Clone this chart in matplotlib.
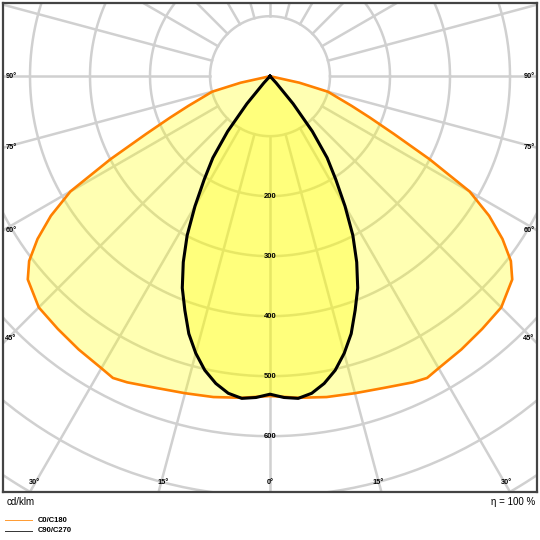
import numpy as np
import matplotlib
matplotlib.use('Agg')
import matplotlib.pyplot as plt

plt.rcParams['font.family'] = ['Liberation Sans', 'DejaVu Sans']

# Luminous intensity (cd/klm) against gamma angle (deg)
gamma_c0 = [0, 5, 10, 15, 20, 25, 27.5, 30, 35, 40, 45, 50, 52.5, 55, 57.5,
            60, 62.5, 65, 67.5, 70, 72.5, 75, 77.5, 80]
i_c0 = [533, 538, 543, 547, 553, 563, 567, 562, 556, 550, 545, 527, 506, 473, 433,
        384, 300, 228, 180, 145, 118, 100, 50, 0]

gamma_c90 = [0, 2.5, 5, 7.5, 10, 12.5, 15, 17.5, 20, 22.5, 25, 27.5, 30,
             32.5, 35, 37.5, 40, 42.5, 45]
i_c90 = [530, 536, 539, 533, 520, 502, 478, 450, 415, 382, 342, 299, 250,
         204, 166, 116, 60, 15, 0]

ring_values = [100, 200, 300, 400, 500, 600, 700, 800]
ring_labels = [200, 300, 400, 500, 600]
side_angles = [90, 75, 60, 45]
bottom_angles = [0, 15, 30]

XMAX = 445
YMIN, YMAX = -693, 122


def curve_xy(gammas, values):
    g = np.radians(np.array(gammas, dtype=float))
    r = np.array(values, dtype=float)
    # left half (C180 / C270) then right half (C0 / C90)
    xl = -r[::-1] * np.sin(g[::-1])
    yl = -r[::-1] * np.cos(g[::-1])
    xr = r * np.sin(g)
    yr = -r * np.cos(g)
    return np.concatenate([xl, xr[1:]]), np.concatenate([yl, yr[1:]])


fig = plt.figure(figsize=(5.4, 5.4), dpi=100)
ax = fig.add_axes([3 / 540, 48 / 540, 534 / 540, 489 / 540])
ax.set_xlim(-XMAX, XMAX)
ax.set_ylim(YMIN, YMAX)
ax.set_xticks([])
ax.set_yticks([])
for s in ax.spines.values():
    s.set_linewidth(1.6)
    s.set_color('#444444')

# polar grid
grid_color = '#d0d0d0'
t = np.linspace(0, 2 * np.pi, 400)
for rv in ring_values:
    ax.plot(rv * np.cos(t), rv * np.sin(t), color=grid_color, lw=1.8, zorder=1)
for a in range(0, 360, 15):
    ar = np.radians(a)
    ax.plot([100 * np.sin(ar), 1000 * np.sin(ar)],
            [-100 * np.cos(ar), -1000 * np.cos(ar)],
            color=grid_color, lw=1.8, zorder=1)

# curves
x0, y0 = curve_xy(gamma_c0, i_c0)
x90, y90 = curve_xy(gamma_c90, i_c90)
ax.fill(x0, y0, color='#ffff00', alpha=0.3, lw=0, zorder=2)
ax.fill(x90, y90, color='#ffff00', alpha=0.3, lw=0, zorder=2)
ax.plot(x0, y0, color='#ff8000', lw=1.9, zorder=3, solid_joinstyle='round')
ax.plot(x90, y90, color='black', lw=2.2, zorder=4, solid_joinstyle='round')

# intensity labels
for v in ring_labels:
    ax.text(0, -v, str(v), fontsize=5.5, fontweight='bold', ha='center', va='center', zorder=5)

# angle labels on the frame
for a in side_angles:
    y = -XMAX / np.tan(np.radians(a)) if a != 90 else 0
    if a == 45:
        y += 8
    ax.text(-XMAX + 4, y, f'{a}°', fontsize=5.3, fontweight='bold', ha='left', va='center')
    ax.text(XMAX - 4, y, f'{a}°', fontsize=5.3, fontweight='bold', ha='right', va='center')
for a in bottom_angles:
    x = -YMIN * np.tan(np.radians(a))
    ax.text(-x + 8 if a else 0, -678, f'{a}°', fontsize=5.3, fontweight='bold',
            ha='center', va='center')
    if a:
        ax.text(x - 6, -678, f'{a}°', fontsize=5.3, fontweight='bold', ha='center', va='center')

# footer
fig.text(7 / 540, 1 - 502 / 540, 'cd/klm', fontsize=7, ha='left', va='center')
fig.text(535 / 540, 1 - 502 / 540, 'η = 100 %', fontsize=7, ha='right', va='center')
fig.add_artist(plt.Line2D([5 / 540, 32 / 540], [1 - 520 / 540] * 2, color='#ff9a30', lw=0.7))
fig.add_artist(plt.Line2D([5 / 540, 32 / 540], [1 - 531 / 540] * 2, color='#333333', lw=0.7))
fig.text(38 / 540, 1 - 520 / 540, 'C0/C180', fontsize=5.5, fontweight='bold', ha='left', va='center')
fig.text(38 / 540, 1 - 531 / 540, 'C90/C270', fontsize=5.5, fontweight='bold', ha='left', va='center')

plt.savefig('out.png', dpi=100)
